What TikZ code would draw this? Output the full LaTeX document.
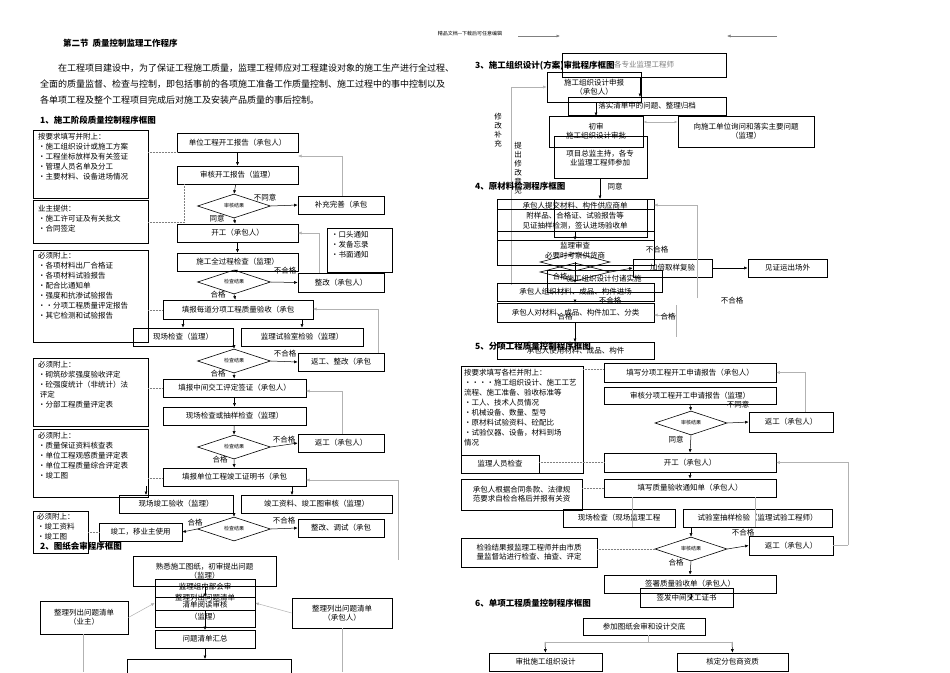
\documentclass[tikz,border=0pt]{standalone}
\usepackage{fontspec}
\setmainfont{Noto Sans CJK SC}
\usetikzlibrary{shapes.geometric,arrows.meta}
\newcommand\bx[6][]{\node[bx,minimum width={(#4-#2)*1pt},minimum height={(#5-#3)*1pt},#1] (#6) at ({(#2+#4)/2},{(#3+#5)/2}) {};}
\tikzset{
 bx/.style={draw,line width=0.7pt,inner sep=1pt,font=\fontsize{7.5}{9}\selectfont},
 lbl/.style={font=\fontsize{7.5}{9}\selectfont,inner sep=0,align=center},
 llbl/.style={font=\fontsize{7.5}{10}\selectfont,inner sep=0,align=left,anchor=north west},
 dia/.style={diamond,draw,line width=0.6pt,aspect=3,minimum width=73pt,minimum height=24pt,inner sep=0,font=\fontsize{5}{6}\selectfont},
 ar/.style={-{Latex[length=3.5pt,width=3pt]},line width=0.5pt},
 gar/.style={-{Latex[length=3.5pt,width=3pt]},line width=0.5pt,draw=gray!60},
 gl/.style={line width=0.5pt,draw=gray!60},
 dl/.style={densely dotted,line width=0.5pt,draw=gray},
 ttl/.style={font=\fontsize{8.5}{10}\selectfont\bfseries,inner sep=0,anchor=west},
}
\begin{document}
\begin{tikzpicture}[x=1pt,y=-1pt]
\useasboundingbox (0,0) rectangle (950,672);
\clip (0,0) rectangle (950,672);
\fill[white] (0,0) rectangle (950,672);
% header text
\node[ttl] (t0) at (63,43) {第二节\ \ 质量控制监理工作程序};
\node[font=\fontsize{5}{6}\selectfont,inner sep=0] (hdr) at (470,34) {精品文档---下载后可任意编辑};
\coordinate (h1) at (518,36); \coordinate (h2) at (560,36);
\coordinate (h3) at (777,36); \coordinate (h4) at (727,36);
\draw[ar,draw=gray] (h1) -- (h2); \draw[ar,draw=gray] (h3) -- (h4);
\node[font=\fontsize{9}{16}\selectfont,inner sep=0,anchor=north west,text width=440pt,align=left] (para) at (40,64)
 {\hspace*{18pt}在工程项目建设中，为了保证工程施工质量，监理工程师应对工程建设对象的施工生产进行全过程、\\全面的质量监督、检查与控制，即包括事前的各项施工准备工作质量控制、施工过程中的事中控制以及\\各单项工程及整个工程项目完成后对施工及安装产品质量的事后控制。};
\node[ttl] (t1) at (40,120) {1、施工阶段质量控制程序框图};

% ---------- Section 1 ----------
\bx{33}{130}{148}{198}{L1}
\node[llbl] at (38,133) {按要求填写并附上：\\•施工组织设计或施工方案\\•工程坐标放样及有关签证\\•管理人员名单及分工\\•主要材料、设备进场情况};
\bx{33}{200}{148}{243}{L2}
\node[llbl] at (38,205) {业主提供：\\•施工许可证及有关批文\\•合同签定};
\bx{33}{250}{148}{342}{L3}
\node[llbl] at (38,252) {必须附上：\\•各项材料出厂合格证\\•各项材料试验报告\\•配合比通知单\\•强度和抗渗试验报告\\••分项工程质量评定报告\\•其它检测和试验报告};
\bx{33}{358}{148}{426}{L4}
\node[llbl] at (38,361) {必须附上：\\•砌筑砂浆强度验收评定\\•砼强度统计（非统计）法\\\ 评定\\•分部工程质量评定表};
\bx{33}{429}{148}{497}{L5}
\node[llbl] at (38,432) {必须附上：\\•质量保证资料核查表\\•单位工程观感质量评定表\\•单位工程质量综合评定表\\•竣工图};
\bx{33}{511}{88}{553}{L6}
\node[llbl] at (37,513) {必须附上：\\•竣工资料\\•竣工图};

\bx{177}{133}{298}{152}{a1}\node[lbl] at (a1) {单位工程开工报告（承包人）};
\bx{177}{166}{298}{184}{a2}\node[lbl] at (a2) {审核开工报告（监理）};
\node[dia] (d1) at (234,206) {审核结果};
\bx{298}{196}{384}{214}{a3}\node[lbl] at (a3) {补充完善（承包};
\bx{177}{224}{298}{242}{a4}\node[lbl] at (a4) {开工（承包人）};
\bx{177}{253}{298}{271}{a5}\node[lbl] at (a5) {施工全过程检查（监理）};
\node[dia] (d2) at (234,282) {检查结果};
\bx{298}{273}{384}{292}{a6}\node[lbl] at (a6) {整改（承包人）};
\bx{327}{228}{392}{272}{a7}\node[llbl] at (331,231) {•口头通知\\•发备忘录\\•书面通知};
\bx{163}{300}{313}{319}{a8}\node[lbl] at (a8) {填报每道分项工程质量验收（承包};
\bx{133}{328}{233}{346}{a9}\node[lbl] at (a9) {现场检查（监理）};
\bx{241}{328}{363}{346}{a10}\node[lbl] at (a10) {监理试验室检验（监理）};
\node[dia] (d3) at (234,361) {检查结果};
\bx{298}{353}{384}{371}{a11}\node[lbl] at (a11) {返工、整改（承包};
\bx{163}{379}{306}{397}{a12}\node[lbl] at (a12) {填报中间交工评定签证（承包人）};
\bx{163}{407}{306}{425}{a13}\node[lbl] at (a13) {现场检查或抽样检查（监理）};
\node[dia] (d4) at (234,447) {检查结果};
\bx{298}{434}{384}{452}{a14}\node[lbl] at (a14) {返工（承包人）};
\bx{163}{468}{306}{486}{a15}\node[lbl] at (a15) {填报单位工程竣工证明书（承包};
\bx{119}{495}{233}{513}{a16}\node[lbl] at (a16) {现场竣工验收（监理）};
\bx{241}{495}{392}{513}{a17}\node[lbl] at (a17) {竣工资料、竣工图审核（监理）};
\node[dia] (d5) at (234,529) {检查结果};
\bx{99}{523}{182}{541}{a18}\node[lbl] at (a18) {竣工，移业主使用};
\bx{298}{519}{384}{537}{a19}\node[lbl] at (a19) {整改、调试（承包};

\draw[ar] (a1) -- (a2); \draw[ar] (a2) -- (d1.north); \draw[ar] (d1.south) -- (a4);
\draw[ar] (a4) -- (a5); \draw[ar] (a5.south) -- (d2.north); \draw[ar] (d2.south) -- (a8);
\draw[ar] (d1.east) -- (a3.west); \draw[ar] (d2.east) -- (a6.west);
\draw[ar] (a8.south -| a9) -- (a9); \draw[ar] (a8.south -| a10) -- (a10);
\draw[ar] (d3.east) -- (a11.west); \draw[ar] (d3.south) -- (a12);
\draw[ar] (a12) -- (a13); \draw[ar] (a13) -- (d4.north); \draw[ar] (d4.east) -- (a14.west);
\draw[ar] (d4.south) -- (a15);
\draw[ar] (a15.south -| 146,0) -- (146,495); \draw[ar] (a15.south -| 292,0) -- (292,495);
\draw[ar] (234,513) -- (d5.north); \draw[ar] (d5.west) -- (a18.east); \draw[ar] (d5.east) -- (a19.west);
\draw[ar] (234,346) -- (d3.north);
\node[lbl] at (265,198) {不同意}; \node[lbl] at (217,219) {同意};
\node[lbl] at (285,271) {不合格}; \node[lbl] at (218,295) {合格};
\node[lbl] at (285,354) {不合格}; \node[lbl] at (218,374) {合格};
\node[lbl] at (284,440) {不合格}; \node[lbl] at (220,460) {合格};
\node[lbl] at (284,521) {不合格}; \node[lbl] at (195,523) {合格};
\draw[gar] (342,196) |- (298,156);
\draw[gar] (319,273) |- (298,233);
\draw[gar] (378,320) |- (313,309); \draw[gl] (378,320) -- (378,353);
\draw[gar] (342,434) |- (306,391);
\draw[gar] (398,537) |- (306,480); \draw[gl] (398,537) -- (398,560);
\draw[dl] (148,152) -- (177,152); \draw[dl] (148,222) -- (184,222); \draw[dl] (184,222) -- (184,184);
\draw[dl] (148,310) -- (163,310); \draw[dl] (148,388) -- (163,388); \draw[dl] (148,478) -- (163,478);
\draw[dl] (88,532) -- (99,532);

% ---------- Section 2 ----------
\node[ttl] (t2) at (40,546) {2、图纸会审程序框图};
\bx{133}{556}{276}{586}{b1}\node[lbl] at (b1) {熟悉施工图纸，初审提出问题\\（监理）};
\bx{155}{579}{255}{627}{b2}\node[lbl] at (205,587) {监理组内部会审};
\bx{155}{597}{255}{610}{b2a}
\node[lbl] at (205,598) {整理列出问题清单};\node[lbl] at (205,605) {清单阅读审核}; \node[lbl] at (205,617) {（监理）};
\bx{40}{601}{128}{634}{b3}\node[lbl] at (b3) {整理列出问题清单\\（业主）};
\bx{292}{598}{392}{628}{b4}\node[lbl] at (b4) {整理列出问题清单\\（承包人）};
\bx{155}{630}{255}{648}{b5}\node[lbl] at (b5) {问题清单汇总};
\bx{127}{659}{291}{700}{b6}
\draw[ar] (205,586) -- (205,597); \draw[ar] (205,610) -- (205,630); \draw[ar] (205,648) -- (205,659);
\draw[gar] (b3.east) -- (b2.west); \draw[gar] (b4.west) -- (b2.east);
\draw[gl] (83,634) -- (83,672); \draw[gl] (342,628) -- (342,672);

% ---------- Section 3 ----------
\bx{562}{53}{726}{77}{c1}\node[lbl,text=gray] at (c1) {各专业监理工程师};
\node[ttl] (t3) at (475,66) {3、施工组织设计(方案)审批程序框图};
\bx{547}{72}{641}{102}{c2}\node[lbl] at (594,87) {施工组织设计申报\\（承包人）};
\bx{568}{97}{726}{115}{c3}\node[lbl] at (c3) {落实清单中的问题、整理归档};
\bx{549}{116}{643}{147}{c4}\node[lbl] at (596,131) {初审\\施工组织设计审批};
\bx{554}{136}{647}{178}{c5}\node[lbl] at (600,158) {项目总监主持，各专\\业监理工程师参加};
\bx{678}{116}{814}{147}{c6}\node[lbl] at (c6) {向施工单位询问和落实主要问题\\（监理）};
\draw[ar] (640,77) -- (640,97); \draw[ar] (596,102) -- (596,116);
\draw[gl,{Latex[length=3pt]}-{Latex[length=3pt]}] (c4.east |- 0,122) -- (c6.west |- 0,122);
\draw[gar] (511,285) |- (c2.west);
\node[lbl,text width=8pt] at (498,130) {修\\改\\补\\充};
\node[lbl,text width=8pt] at (518,168) {提\\出\\修\\改\\意\\见};
\node[lbl] at (615,187) {同意};
\draw[ar] (600,178) -- (600,199);

% ---------- Section 4 ----------
\node[ttl] (t4) at (475,186) {4、原材料检测程序框图};
\bx{497}{199}{654}{265}{e1}
\bx{554}{199}{647}{237}{e1a}
\draw[line width=0.6pt] (497,209) -- (654,209) (497,231) -- (654,231) (497,240) -- (654,240);
\node[lbl] at (575,206) {承包人提交材料、构件供应商单};
\node[lbl] at (575,216) {附样品、合格证、试验报告等};
\node[lbl] at (575,226) {见证抽样检测，签认进场验收单};
\node[lbl] at (575,246) {监理审查};
\node[lbl] at (575,256) {必要时考察供货商};
\node[dia,minimum width=70pt,minimum height=18pt] (e2) at (575,262) {};
\node[dia,minimum width=70pt,minimum height=18pt] (e3) at (575,272) {};
\bx{547}{270}{662}{292}{e4}\node[lbl] at (604,279) {施工组织设计付诸实施};
\bx{633}{259}{712}{277}{e5}\node[lbl] at (e5) {加倍取样复验};
\bx{748}{259}{827}{277}{e6}\node[lbl] at (e6) {见证运出场外};
\bx{497}{283}{654}{301}{e7}\node[lbl] at (e7) {承包人组织材料、成品、构件进场};
\bx{497}{303}{654}{322}{e8}\node[lbl] at (e8) {承包人对材料、成品、构件加工、分类};
\bx{497}{342}{654}{359}{e9}\node[lbl] at (e9) {承包人使用材料、成品、构件};
\draw[ar] (575,231) -- (575,240); \draw[ar] (575,262) -- (575,283);
\draw[ar] (e3.east) -- (e5.west); \draw[ar] (e5.east) -- (e6.west);
\draw[ar] (575,301) -- (575,303); \draw[ar] (575,322) -- (575,342);
\draw[gar] (697,298) |- (654,205);
\draw[gl] (676,305) -- (676,337); \draw[gar] (676,315) -- (654,315);
\node[lbl] at (657,250) {不合格}; \node[lbl] at (610,301) {不合格}; \node[lbl] at (732,301) {不合格};
\node[lbl] at (668,317) {合格}; \node[lbl] at (565,317) {合格}; \node[lbl] at (560,277) {合格};

% ---------- Section 5 ----------
\node[ttl] (t5) at (475,346) {5、分项工程质量控制程序框图};
\bx{461}{366}{583}{473}{f1}
\node[llbl] at (464,369) {按要求填写各栏并附上：\\••••施工组织设计、施工工艺\\流程、施工准备、验收标准等\\•工人、技术人员情况\\•机械设备、数量、型号\\•原材料试验资料、砼配比\\•试验仪器、设备，材料到场\\情况};
\bx{461}{455}{539}{473}{f2}\node[lbl] at (f2) {监理人员检查};
\bx{604}{363}{776}{382}{f3}\node[lbl] at (f3) {填写分项工程开工申请报告（承包人）};
\bx{604}{387}{776}{404}{f4}\node[lbl] at (f4) {审核分项工程开工申请报告（监理）};
\node[dia,minimum width=72pt] (f5) at (691,423) {审核结果};
\bx{749}{412}{833}{432}{f6}\node[lbl] at (f6) {返工（承包人）};
\bx{604}{453}{776}{472}{f7}\node[lbl] at (f7) {开工（承包人）};
\bx{461}{479}{582}{510}{f8}\node[lbl,align=left] at (f8) {承包人根据合同条款、法律规\\范要求自检合格后并报有关资};
\bx{604}{479}{776}{497}{f9}\node[lbl] at (f9) {填写质量验收通知单（承包人）};
\bx{563}{509}{675}{527}{f10}\node[lbl] at (f10) {现场检查（现场监理工程};
\bx{683}{509}{832}{527}{f11}\node[lbl] at (f11) {试验室抽样检验（监理试验工程师）};
\bx{461}{538}{597}{567}{f12}\node[lbl,align=left] at (f12) {检验结果报监理工程师并由市质\\量监督站进行检查、抽查、评定};
\node[dia,minimum width=72pt] (f13) at (691,549) {审核结果};
\bx{749}{536}{833}{555}{f14}\node[lbl] at (f14) {返工（承包人）};
\bx{604}{575}{776}{593}{f15}\node[lbl] at (f15) {签署质量验收单（承包人）};
\bx{640}{588}{733}{607}{f16}\node[lbl] at (f16) {签发中间交工证书};
\draw[ar] (f4.south) -- (f5.north); \draw[ar] (f5.east) -- (f6.west); \draw[ar] (f5.south) -- (f7.north);
\draw[ar] (f7) -- (f9); \draw[gl] (632,497) -- (632,527); \draw[gl] (755,497) -- (755,527);
\draw[ar] (691,527) -- (f13.north); \draw[ar] (f13.east) -- (f14.west); \draw[ar] (f13.south) -- (f15.north);
\draw[ar] (691,593) -- (691,600);
\draw[gar] (805,412) |- (f3.east); \draw[gar] (848,545) |- (f7.east); \draw[gl] (833,545) -- (848,545);
\node[lbl] at (738,405) {不同意}; \node[lbl] at (676,440) {同意};
\node[lbl] at (743,533) {不合格}; \node[lbl] at (676,563) {合格};
\draw[dl] (583,369) -- (604,369); \draw[dl] (539,462) -- (604,462); \draw[dl] (582,488) -- (604,488);
\draw[dl] (597,549) -- (655,549);

% ---------- Section 6 ----------
\node[ttl] (t6) at (475,603) {6、单项工程质量控制程序框图};
\bx{583}{618}{705}{635}{g1}\node[lbl] at (g1) {参加图纸会审和设计交底};
\bx{489}{653}{602}{671}{g2}\node[lbl] at (g2) {审批施工组织设计};
\bx{677}{653}{788}{671}{g3}\node[lbl] at (g3) {核定分包商资质};
\draw[gl] (648,635) -- (648,642);
\draw[ar] (545,642) -- (g2.north); \draw[ar] (732,642) -- (g3.north);
\draw[gl] (545,642) -- (732,642);
\end{tikzpicture}
\end{document}
